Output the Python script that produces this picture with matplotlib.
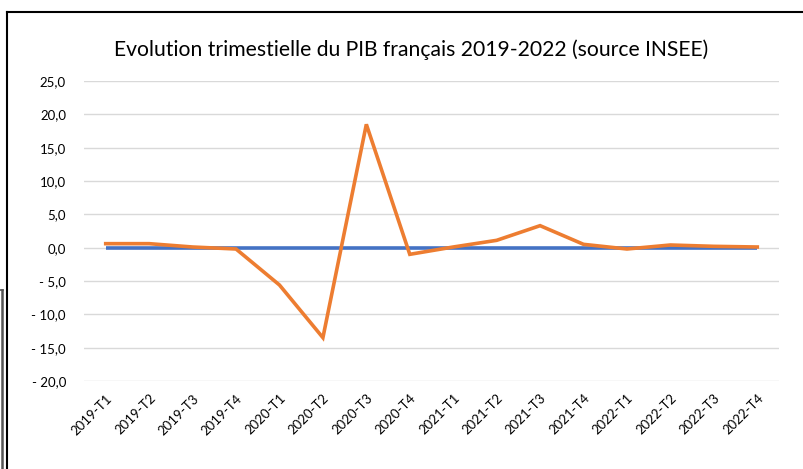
import matplotlib.pyplot as plt
from matplotlib.lines import Line2D

# Données : évolution trimestrielle du PIB (%)
trimestres = ['2019-T1', '2019-T2', '2019-T3', '2019-T4',
              '2020-T1', '2020-T2', '2020-T3', '2020-T4',
              '2021-T1', '2021-T2', '2021-T3', '2021-T4',
              '2022-T1', '2022-T2', '2022-T3', '2022-T4']
pib = [0.6, 0.6, 0.1, -0.2,
       -5.6, -13.5, 18.5, -1.0,
       0.1, 1.1, 3.3, 0.5,
       -0.2, 0.4, 0.2, 0.1]
zero = [0.0] * len(trimestres)
yticks = [-20, -15, -10, -5, 0, 5, 10, 15, 20, 25]

plt.rcParams['font.family'] = ['Lato', 'DejaVu Sans']

fig = plt.figure(figsize=(8.04, 4.69), dpi=100)
ax = fig.add_axes([84 / 804, 1 - 381 / 469, 695 / 804, 300 / 469])

x = range(len(trimestres))
ax.plot(x, zero, color='#4472C4', lw=2.6, solid_capstyle='butt', zorder=3)
ax.plot(x, pib, color='#ED7D31', lw=2.6, solid_joinstyle='miter', zorder=4)

ax.set_xlim(-0.5, len(trimestres) - 0.5)
ax.set_ylim(-20, 25)
ax.set_yticks(yticks)


def fmt(v):
    s = f'{abs(v):.1f}'.replace('.', ',')
    return '- ' + s if v < 0 else s


ax.set_yticklabels([fmt(v) for v in yticks], fontsize=9.5)
ax.grid(axis='y', color='#D9D9D9', lw=1)
ax.set_axisbelow(True)
ax.tick_params(axis='both', length=0)
ax.tick_params(axis='y', pad=13)
ax.set_xticks(list(x))
ax.set_xticklabels(trimestres, rotation=45, ha='right', rotation_mode='anchor', fontsize=9.5)
ax.tick_params(axis='x', pad=8)
for s in ax.spines.values():
    s.set_visible(False)

fig.text(411 / 804, 1 - 50 / 469, 'Evolution trimestielle du PIB français 2019-2022 (source INSEE)',
         ha='center', va='center', fontsize=15.2)

# cadre
fig.add_artist(Line2D([7 / 804, 1], [1 - 12 / 469] * 2, color='black', lw=1.5, transform=fig.transFigure))
fig.add_artist(Line2D([7 / 804] * 2, [0, 1 - 12 / 469], color='black', lw=1.5, transform=fig.transFigure))
fig.add_artist(Line2D([2 / 804] * 2, [0, 1 - 290 / 469], color='#555555', lw=1.8, transform=fig.transFigure))
fig.add_artist(Line2D([0, 3 / 804], [1 - 290 / 469] * 2, color='#555555', lw=1.2, transform=fig.transFigure))

fig.savefig('out.png', dpi=100)
